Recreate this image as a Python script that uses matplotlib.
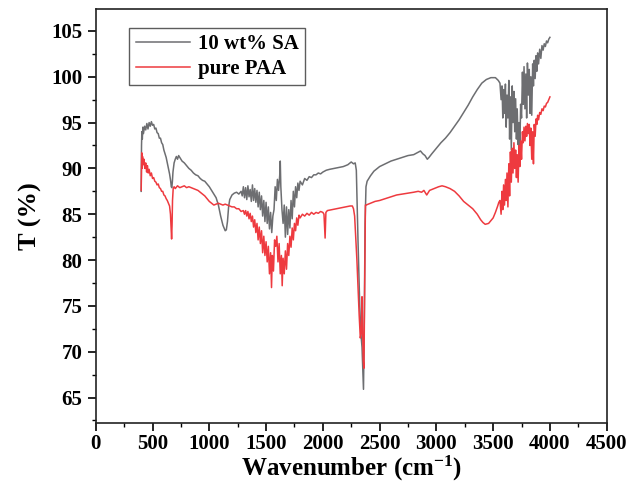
import matplotlib
matplotlib.use("Agg")
import matplotlib.pyplot as plt
from matplotlib.ticker import MultipleLocator
import numpy as np

# FTIR transmittance spectra, (wavenumber cm-1, T %)
sa_spectrum = [
    (400, 87.5), (403, 92.5), (406, 94.0), (410, 93.2), (415, 94.5), (420, 93.8),
    (430, 94.6), (440, 94.2), (450, 94.9), (460, 94.3), (470, 95.0), (480, 94.6),
    (490, 95.1), (500, 94.7), (510, 94.8), (520, 94.3), (530, 94.4), (540, 93.9),
    (550, 93.8), (560, 93.3), (570, 93.3), (580, 92.8), (590, 92.6), (600, 92.0),
    (610, 91.6), (620, 91.2), (630, 90.6), (640, 90.0), (650, 89.4), (660, 88.6),
    (665, 88.0), (670, 87.9), (675, 88.6), (680, 89.6), (690, 90.6), (700, 91.0),
    (710, 91.3), (720, 91.0), (730, 91.4), (740, 91.2), (750, 91.0), (760, 90.8),
    (780, 90.6), (800, 90.3), (820, 90.0), (840, 89.8), (860, 89.5), (880, 89.3),
    (900, 89.2), (920, 88.9), (940, 88.7), (960, 88.6), (980, 88.3), (1000, 88.0),
    (1020, 87.6), (1040, 87.2), (1060, 86.8), (1080, 86.0), (1100, 84.8), (1120, 83.8),
    (1140, 83.2), (1150, 83.3), (1160, 84.2), (1170, 85.8), (1180, 86.6), (1200, 87.1),
    (1220, 87.3), (1240, 87.4), (1260, 87.2), (1280, 87.5), (1290, 87.0), (1300, 88.0),
    (1310, 86.8), (1320, 87.9), (1330, 86.6), (1340, 88.1), (1350, 86.9), (1360, 87.7),
    (1370, 86.4), (1380, 88.2), (1390, 86.5), (1400, 87.8), (1410, 86.3), (1420, 87.6),
    (1430, 85.8), (1440, 87.4), (1450, 85.5), (1460, 87.0), (1470, 84.8), (1480, 86.5),
    (1490, 84.2), (1500, 86.3), (1510, 84.0), (1520, 85.8), (1530, 83.4), (1540, 85.2),
    (1550, 83.0), (1560, 84.8), (1570, 85.5), (1580, 88.0), (1590, 86.5), (1600, 88.8),
    (1610, 87.6), (1620, 89.2), (1625, 90.8), (1630, 88.0), (1640, 85.5), (1650, 84.0),
    (1660, 86.0), (1670, 82.5), (1680, 85.8), (1690, 82.8), (1700, 85.5), (1710, 83.5),
    (1720, 86.5), (1730, 84.5), (1740, 87.5), (1750, 85.8), (1760, 88.0), (1770, 86.8),
    (1780, 88.4), (1790, 87.6), (1800, 88.6), (1820, 88.2), (1840, 88.9), (1860, 88.7),
    (1880, 89.1), (1900, 89.0), (1920, 89.3), (1940, 89.3), (1960, 89.5), (1980, 89.4),
    (2000, 89.6), (2030, 89.8), (2060, 89.9), (2100, 90.0), (2140, 90.1), (2180, 90.2),
    (2220, 90.4), (2250, 90.7), (2270, 90.5), (2285, 90.6), (2295, 89.8), (2310, 82.0),
    (2325, 75.0), (2335, 72.0), (2345, 70.5), (2352, 68.0), (2358, 65.9), (2364, 72.0),
    (2372, 84.0), (2380, 88.0), (2390, 88.6), (2420, 89.2), (2450, 89.7), (2500, 90.2),
    (2550, 90.5), (2600, 90.8), (2650, 91.0), (2700, 91.2), (2750, 91.4), (2800, 91.5),
    (2830, 91.7), (2860, 91.9), (2880, 91.6), (2900, 91.4), (2920, 91.0), (2935, 91.2),
    (2960, 91.6), (3000, 92.2), (3040, 92.8), (3080, 93.3), (3120, 93.9), (3160, 94.6),
    (3200, 95.3), (3240, 96.1), (3280, 96.9), (3320, 97.8), (3360, 98.6), (3400, 99.3),
    (3440, 99.7), (3480, 99.9), (3520, 99.9), (3545, 99.6), (3560, 99.3), (3570, 97.5),
    (3578, 99.0), (3585, 95.5), (3592, 98.6), (3600, 96.0), (3608, 99.2), (3615, 94.5),
    (3622, 98.0), (3630, 95.5), (3638, 99.6), (3645, 93.2), (3652, 97.8), (3660, 92.0),
    (3668, 99.0), (3675, 95.0), (3683, 98.4), (3690, 94.0), (3698, 97.6), (3705, 93.2),
    (3712, 96.5), (3720, 92.6), (3728, 95.0), (3735, 92.0), (3742, 97.0), (3750, 95.5),
    (3758, 100.5), (3765, 97.0), (3772, 101.1), (3780, 96.5), (3788, 100.3), (3795, 95.5),
    (3802, 101.5), (3810, 98.0), (3818, 100.8), (3825, 96.0), (3832, 100.0), (3840, 95.8),
    (3848, 101.4), (3855, 99.0), (3862, 101.8), (3870, 99.8), (3878, 102.3), (3885, 100.6),
    (3892, 102.6), (3900, 101.4), (3910, 103.0), (3920, 102.0), (3930, 103.4), (3940, 102.9),
    (3950, 103.6), (3960, 103.3), (3970, 103.9), (3980, 103.7), (3990, 104.1), (4000, 104.3),
]

paa_spectrum = [
    (400, 87.6), (403, 90.5), (405, 91.7), (408, 90.0), (412, 91.3), (418, 90.4),
    (425, 91.0), (432, 90.0), (440, 90.6), (448, 89.6), (455, 90.3), (462, 89.5),
    (470, 89.9), (480, 89.2), (490, 89.5), (500, 88.9), (510, 89.0), (520, 88.6),
    (530, 88.5), (540, 88.2), (550, 88.3), (560, 87.9), (570, 87.8), (580, 87.5),
    (590, 87.5), (600, 87.1), (610, 87.0), (620, 86.7), (630, 86.5), (640, 86.2),
    (650, 85.9), (658, 85.0), (664, 83.5), (668, 82.3), (672, 83.8), (676, 86.5),
    (682, 87.8), (690, 88.0), (700, 87.8), (720, 88.1), (740, 87.9), (760, 88.0),
    (780, 88.1), (800, 87.9), (820, 88.0), (840, 87.9), (860, 87.8), (880, 87.7),
    (900, 87.6), (920, 87.4), (940, 87.2), (960, 87.0), (980, 86.7), (1000, 86.4),
    (1020, 86.2), (1040, 86.0), (1060, 86.1), (1080, 86.2), (1100, 86.1), (1120, 86.0),
    (1140, 86.1), (1160, 86.0), (1180, 85.9), (1200, 85.8), (1220, 85.8), (1240, 85.6),
    (1260, 85.6), (1280, 85.3), (1300, 85.4), (1310, 85.0), (1320, 85.4), (1330, 84.8),
    (1340, 85.3), (1350, 84.5), (1360, 85.1), (1370, 84.2), (1380, 84.8), (1390, 83.6),
    (1400, 84.4), (1410, 83.0), (1420, 84.0), (1430, 82.2), (1440, 83.6), (1450, 81.8),
    (1460, 83.2), (1470, 80.8), (1480, 82.6), (1490, 80.5), (1500, 82.0), (1510, 79.8),
    (1520, 81.5), (1530, 78.5), (1540, 80.8), (1548, 77.0), (1555, 80.5), (1565, 78.8),
    (1575, 82.2), (1585, 81.5), (1595, 82.6), (1605, 79.8), (1615, 81.8), (1625, 78.5),
    (1635, 80.5), (1642, 77.2), (1650, 80.2), (1660, 78.5), (1670, 81.0), (1680, 79.0),
    (1690, 81.8), (1700, 80.5), (1710, 82.6), (1720, 81.4), (1730, 83.5), (1740, 82.2),
    (1750, 84.0), (1760, 83.2), (1770, 84.6), (1780, 83.8), (1790, 84.9), (1800, 84.6),
    (1820, 85.0), (1840, 84.8), (1860, 85.1), (1880, 84.9), (1900, 85.2), (1920, 85.0),
    (1940, 85.2), (1960, 85.1), (1980, 85.3), (2000, 85.2), (2010, 85.0), (2020, 82.4),
    (2027, 85.2), (2040, 85.4), (2080, 85.5), (2120, 85.6), (2160, 85.7), (2200, 85.8),
    (2240, 85.9), (2260, 85.9), (2270, 85.6), (2280, 84.8), (2300, 80.0), (2320, 74.0),
    (2330, 71.5), (2338, 72.0), (2345, 76.0), (2350, 72.5), (2356, 69.0), (2362, 68.2),
    (2368, 76.0), (2375, 86.0), (2380, 86.0), (2420, 86.2), (2460, 86.4), (2500, 86.5),
    (2550, 86.7), (2600, 86.9), (2650, 87.1), (2700, 87.2), (2750, 87.3), (2800, 87.4),
    (2840, 87.5), (2870, 87.4), (2890, 87.6), (2915, 87.1), (2940, 87.6), (2980, 87.8),
    (3020, 88.0), (3050, 88.1), (3080, 88.0), (3120, 87.8), (3160, 87.5), (3200, 87.0),
    (3240, 86.4), (3280, 86.0), (3320, 85.6), (3360, 85.0), (3390, 84.4), (3410, 84.1),
    (3430, 83.9), (3460, 84.0), (3480, 84.3), (3500, 84.6), (3520, 85.2), (3540, 85.9),
    (3550, 86.3), (3560, 86.5), (3570, 85.0), (3578, 87.5), (3585, 85.5), (3592, 88.2),
    (3600, 86.0), (3608, 88.8), (3615, 86.5), (3622, 89.5), (3630, 85.8), (3638, 90.5),
    (3645, 87.0), (3652, 91.8), (3660, 88.5), (3668, 92.2), (3675, 89.5), (3683, 92.8),
    (3690, 90.0), (3698, 92.0), (3705, 89.0), (3712, 91.5), (3720, 88.5), (3728, 92.5),
    (3735, 90.2), (3742, 93.0), (3750, 91.0), (3758, 94.0), (3765, 92.8), (3772, 94.5),
    (3780, 93.0), (3788, 94.6), (3795, 93.5), (3802, 94.9), (3810, 93.8), (3818, 94.8),
    (3825, 92.5), (3832, 94.4), (3840, 91.0), (3848, 94.0), (3855, 90.5), (3862, 94.8),
    (3870, 93.5), (3878, 95.4), (3885, 94.8), (3892, 95.8), (3900, 95.3), (3910, 96.1),
    (3920, 95.9), (3930, 96.5), (3940, 96.3), (3950, 96.8), (3960, 96.7), (3970, 97.1),
    (3980, 97.2), (3990, 97.5), (4000, 97.8),
]

labels = ["10 wt% SA", "pure PAA"]
colors = ["#6d6e71", "#ee3a3f"]

plt.rcParams["font.family"] = "Liberation Serif"
plt.rcParams["font.weight"] = "bold"
plt.rcParams["mathtext.fontset"] = "custom"
plt.rcParams["mathtext.rm"] = "Liberation Serif:bold"
plt.rcParams["mathtext.default"] = "rm"

fig = plt.figure(figsize=(6.3, 4.95), dpi=100)
ax = fig.add_axes([0.152, 0.145, 0.811, 0.837])

for spec, label, color in zip([sa_spectrum, paa_spectrum], labels, colors):
    wn, t = np.array(spec).T
    ax.plot(wn, t, color=color, lw=1.1, label=label)

ax.set_xlim(0, 4500)
ax.set_ylim(62.2, 107.4)
ax.xaxis.set_major_locator(MultipleLocator(500))
ax.xaxis.set_minor_locator(MultipleLocator(250))
ax.yaxis.set_major_locator(MultipleLocator(5))
ax.yaxis.set_minor_locator(MultipleLocator(2.5))
ax.tick_params(which="major", direction="out", length=6, width=1.2, labelsize=15)
ax.tick_params(axis="x", which="major", pad=2)
ax.tick_params(which="minor", direction="out", length=3, width=1.0)
for s in ax.spines.values():
    s.set_linewidth(1.2)
    s.set_color("#222222")

ax.set_xlabel("Wavenumber (cm$^{-1}$)", fontsize=18, fontweight="bold", labelpad=0)
ax.set_ylabel("T (%)", fontsize=19, fontweight="bold", labelpad=7)

leg = ax.legend(loc="upper left", bbox_to_anchor=(0.066, 0.955), fontsize=15,
                frameon=True, fancybox=False, edgecolor="#333333",
                handlelength=2.6, handletextpad=0.4, borderpad=0.3,
                labelspacing=0.25, borderaxespad=0)
leg.get_frame().set_linewidth(1.0)

fig.savefig("out.png", dpi=100)
